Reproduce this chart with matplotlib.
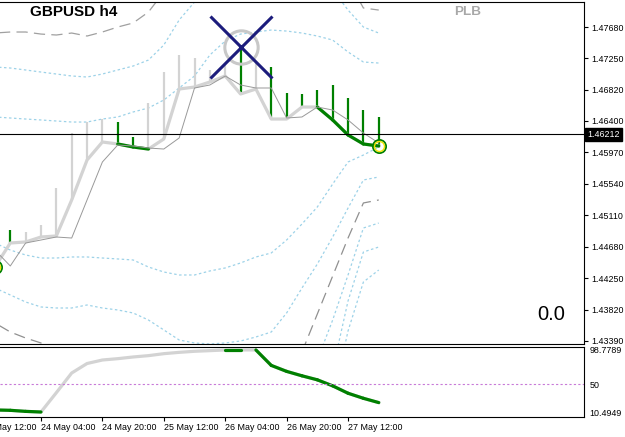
import numpy as np
import matplotlib.pyplot as plt
from matplotlib.transforms import blended_transform_factory

plt.rcParams['font.family'] = ['Liberation Sans', 'DejaVu Sans']

nan = np.nan

# h4 bars: index 0 = 24 May 04:00, -3 = 23 May 16:00, 22 = 27 May 20:00
bars = np.arange(-3, 23)

# thick smoothed line and its lagging thin line
fast_line = [1.44401, 1.44729, 1.44743, 1.44811, 1.44825, 1.45317, 1.45863, 1.46109,
             1.46082, 1.46041, 1.46013, 1.46150, 1.46833, 1.46860, 1.46929, 1.47011,
             1.46765, 1.46833, 1.46423, 1.46423, 1.46587, 1.46587, 1.46410, 1.46205,
             1.46082, 1.46054]
slow_line = [1.44633, 1.44415, 1.44729, 1.44770, 1.44811, 1.44797, 1.45317, 1.45836,
             1.46068, 1.46054, 1.46027, 1.46013, 1.46164, 1.46847, 1.46888, 1.47011,
             1.46888, 1.46847, 1.46847, 1.46437, 1.46451, 1.46587, 1.46546, 1.46410,
             1.46232, 1.46095]
# segment from bar k to k+1 drawn green
fast_green = [0, 0, 0, 0, 0, 0, 0, 0, 1, 1, 0, 0, 0, 0, 0, 0,
              0, 0, 0, 0, 0, 1, 1, 1, 1, 0]

# vertical histogram from the thick line up to the bar high
bar_high = [nan, 1.44907, 1.44879, 1.44975, 1.45481, 1.46232, 1.46382, 1.46423,
            1.46382, 1.46177, 1.46642, 1.47065, 1.47298, 1.47257, 1.47093, 1.47175,
            1.47407, 1.47188, 1.47134, 1.46778, 1.46765, 1.46819, 1.46888, 1.46710,
            1.46546, 1.46451]
bar_up = [0, 1, 0, 0, 0, 0, 0, 0, 1, 1, 0, 0, 0, 0, 0, 0,
          1, 0, 1, 1, 1, 1, 1, 1, 1, 1]

# dotted bands
band_a = [1.47134, 1.47120, 1.47093, 1.47065, 1.47038, 1.47011, 1.46997, 1.47038,
          1.47093, 1.47147, 1.47229, 1.47434, 1.47776, 1.48022, 1.48322, nan,
          nan, nan, nan, nan, nan, nan, 1.48186, 1.47912, 1.47680, 1.47598]
band_b = [1.46451, 1.46437, 1.46423, 1.46410, 1.46396, 1.46382, 1.46382, 1.46423,
          1.46451, 1.46519, 1.46574, 1.46683, 1.46847, 1.47011, 1.47298, 1.47489,
          1.47584, 1.47612, 1.47639, 1.47625, 1.47598, 1.47557, 1.47502, 1.47339,
          1.47202, 1.47188]
band_c = [1.44729, 1.44633, 1.44565, 1.44524, 1.44524, 1.44538, 1.44538, 1.44524,
          1.44511, 1.44497, 1.44401, 1.44333, 1.44292, 1.44292, 1.44347, 1.44388,
          1.44456, 1.44538, 1.44593, 1.44770, 1.44989, 1.45221, 1.45535, 1.45836,
          1.45931, 1.46041]
band_d = [1.44114, 1.44019, 1.43923, 1.43855, 1.43841, 1.43841, 1.43882, 1.43841,
          1.43814, 1.43773, 1.43677, 1.43541, 1.43404, 1.43363, 1.43349, 1.43363,
          1.43390, 1.43445, 1.43513, 1.43773, 1.44114, 1.44442, 1.44811, 1.45207,
          1.45590, 1.45631]
band_e = [nan] * 21 + [1.43131, 1.43677, 1.44292, 1.44934, 1.45002]
band_f = [nan] * 22 + [1.42994, 1.43937, 1.44606, 1.44674]
band_g = [nan] * 22 + [1.42584, 1.43527, 1.44196, 1.44360]

# dashed outer lines
outer_up = [1.47598, 1.47612, 1.47612, 1.47584, 1.47571, 1.47598, 1.47557, 1.47612,
            1.47680, 1.47735, 1.47885, 1.48158, nan, nan, nan, nan,
            nan, nan, nan, nan, nan, nan, nan, 1.48322, 1.47940, 1.47912]
outer_dn = [1.43636, 1.43513, 1.43431, 1.43363, 1.43308, nan, nan, nan,
            nan, nan, nan, nan, nan, nan, nan, nan,
            nan, nan, nan, nan, 1.43240, 1.43759, 1.44278, 1.44797, 1.45276, 1.45317]

signal_bars = [-3, 22]
cross_bar = 13
last_price = 1.46212

price_ticks = [1.47680, 1.47250, 1.46820, 1.46400, 1.45970, 1.45540,
               1.45110, 1.44680, 1.44250, 1.43820, 1.43390]

# sub window oscillator
osc = [13.4, 12.9, 11.4, 10.4949, 38.0, 66.0, 79.5, 84.5, 86.4, 88.8, 90.7, 93.5,
       95.4, 96.9, 97.8, 98.7789, 98.7789, 98.7789, 76.8, 68.3, 62.0, 56.3, 47.7,
       37.2, 30.0, 23.9]
osc_green = [1, 1, 1, 0, 0, 0, 0, 0, 0, 0, 0, 0, 0, 0, 0, 1,
             0, 1, 1, 1, 1, 1, 1, 1, 1, 0]
osc_ticks = [98.7789, 50, 10.4949]

time_ticks = [-4, 0, 4, 8, 12, 16, 20]
time_labels = ['23 May 12:00', '24 May 04:00', '24 May 20:00', '25 May 12:00',
               '26 May 04:00', '26 May 20:00', '27 May 12:00']

GREEN = '#008000'
LGRAY = '#d3d3d3'

fig = plt.figure(figsize=(6.25, 4.37), dpi=100)
ax = fig.add_axes([0, 1 - 344 / 437, 584 / 625, 342 / 437])
ax2 = fig.add_axes([0, 1 - 417 / 437, 584 / 625, 70 / 437])

x = bars
fast = np.array(fast_line)

# bands
dot = (0, (2, 2))
for b in [band_a, band_b, band_c, band_d, band_e, band_f, band_g]:
    ax.plot(x, b, color='#9dd2e8', lw=0.9, ls=dot)
ax.plot(x, outer_up, color='#a0a0a0', lw=0.9, ls=(0, (9, 5)))
ax.plot(x, outer_dn, color='#909090', lw=0.9, ls=(0, (9, 5)))

# histogram
cols = [GREEN if u else LGRAY for u in bar_up]
ax.vlines(x, fast, bar_high, colors=cols, lw=1.6, zorder=3)

# lines
ax.plot(x, fast, color=LGRAY, lw=2.3, zorder=4, solid_joinstyle='round')
for i in range(len(x) - 1):
    if fast_green[i]:
        ax.plot(x[i:i + 2], fast[i:i + 2], color=GREEN, lw=2.3, zorder=5,
                solid_capstyle='round')
ax.plot(x, slow_line, color='#999999', lw=0.7, zorder=6)

# signals
sx = np.array(signal_bars)
sy = fast[sx + 3]
ax.plot(sx, sy, 'o', ms=9.5, mfc='none', mec=GREEN, mew=1.3, zorder=7)
ax.plot(sx, sy, 'o', ms=7.2, mfc='none', mec='#f2e600', mew=1.0, zorder=7)
ch = bar_high[cross_bar + 3]
ax.plot([cross_bar], [ch], 'o', ms=24, mfc='none', mec='#c8c8c8', mew=2.2, zorder=7)
ax.plot([cross_bar], [ch], 'x', ms=44, mec='#1c1c7c', mew=2.2, zorder=8)

ax.axhline(last_price, color='black', lw=0.8, zorder=9)

ax.set_xlim(-2.67, 35.37)
ax.set_ylim(1.43349, 1.48022)
ax.set_xticks([])
ax.yaxis.tick_right()
ax.set_yticks(price_ticks)
ax.set_yticklabels([f'{v:.5f}' for v in price_ticks])
ax.tick_params(axis='y', length=3, width=0.8, pad=2, labelsize=6.4)
ax.spines['left'].set_visible(False)
for s in ['top', 'right', 'bottom']:
    ax.spines[s].set_linewidth(0.8)

tr = blended_transform_factory(ax.transAxes, ax.transData)
ax.text(1.0 + 3 / 584, last_price, f'{last_price:.5f}', transform=tr, ha='left',
        va='center', fontsize=6.4, color='white',
        bbox=dict(boxstyle='square,pad=0.25', fc='black', ec='black'), clip_on=False)

ax.text(30 / 584, 1 - 10 / 342, 'GBPUSD h4', transform=ax.transAxes, fontsize=11,
        fontweight='bold', ha='left', va='center')
ax.text(468 / 584, 1 - 10 / 342, 'PLB', transform=ax.transAxes, fontsize=9.7,
        fontweight='bold', color='#a8a8a8', ha='center', va='center')
ax.text(551 / 584, 1 - 312 / 342, '0.0', transform=ax.transAxes, fontsize=14.5,
        ha='center', va='center')

# sub window
osc = np.array(osc)
ax2.plot(x, osc, color=LGRAY, lw=2.3, solid_joinstyle='round')
for i in range(len(x) - 1):
    if osc_green[i]:
        ax2.plot(x[i:i + 2], osc[i:i + 2], color=GREEN, lw=2.3,
                 solid_capstyle='round')
ax2.axhline(50, color='#c87ad8', lw=0.8, ls=(0, (2, 2)))
ax2.set_xlim(-2.67, 35.37)
ax2.set_ylim(3.4, 103.0)
ax2.yaxis.tick_right()
ax2.set_yticks(osc_ticks)
ax2.set_yticklabels(['98.7789', '50', '10.4949'])
ax2.tick_params(axis='y', length=0, pad=4, labelsize=6.4)
ax2.set_xticks(time_ticks[1:])
ax2.set_xticklabels(time_labels[1:], ha='left')
ax2.tick_params(axis='x', length=3, width=0.8, pad=1.5, labelsize=6.4)
for lab in ax2.get_xticklabels():
    lab.set_x(0)
ax2.text(time_ticks[0] + 0.15, -0.08, time_labels[0], fontsize=6.4, ha='left',
         va='top', transform=blended_transform_factory(ax2.transData, ax2.transAxes),
         clip_on=False)
ax2.spines['left'].set_visible(False)
for s in ['top', 'right', 'bottom']:
    ax2.spines[s].set_linewidth(0.8)

fig.savefig('out.png', dpi=100)
